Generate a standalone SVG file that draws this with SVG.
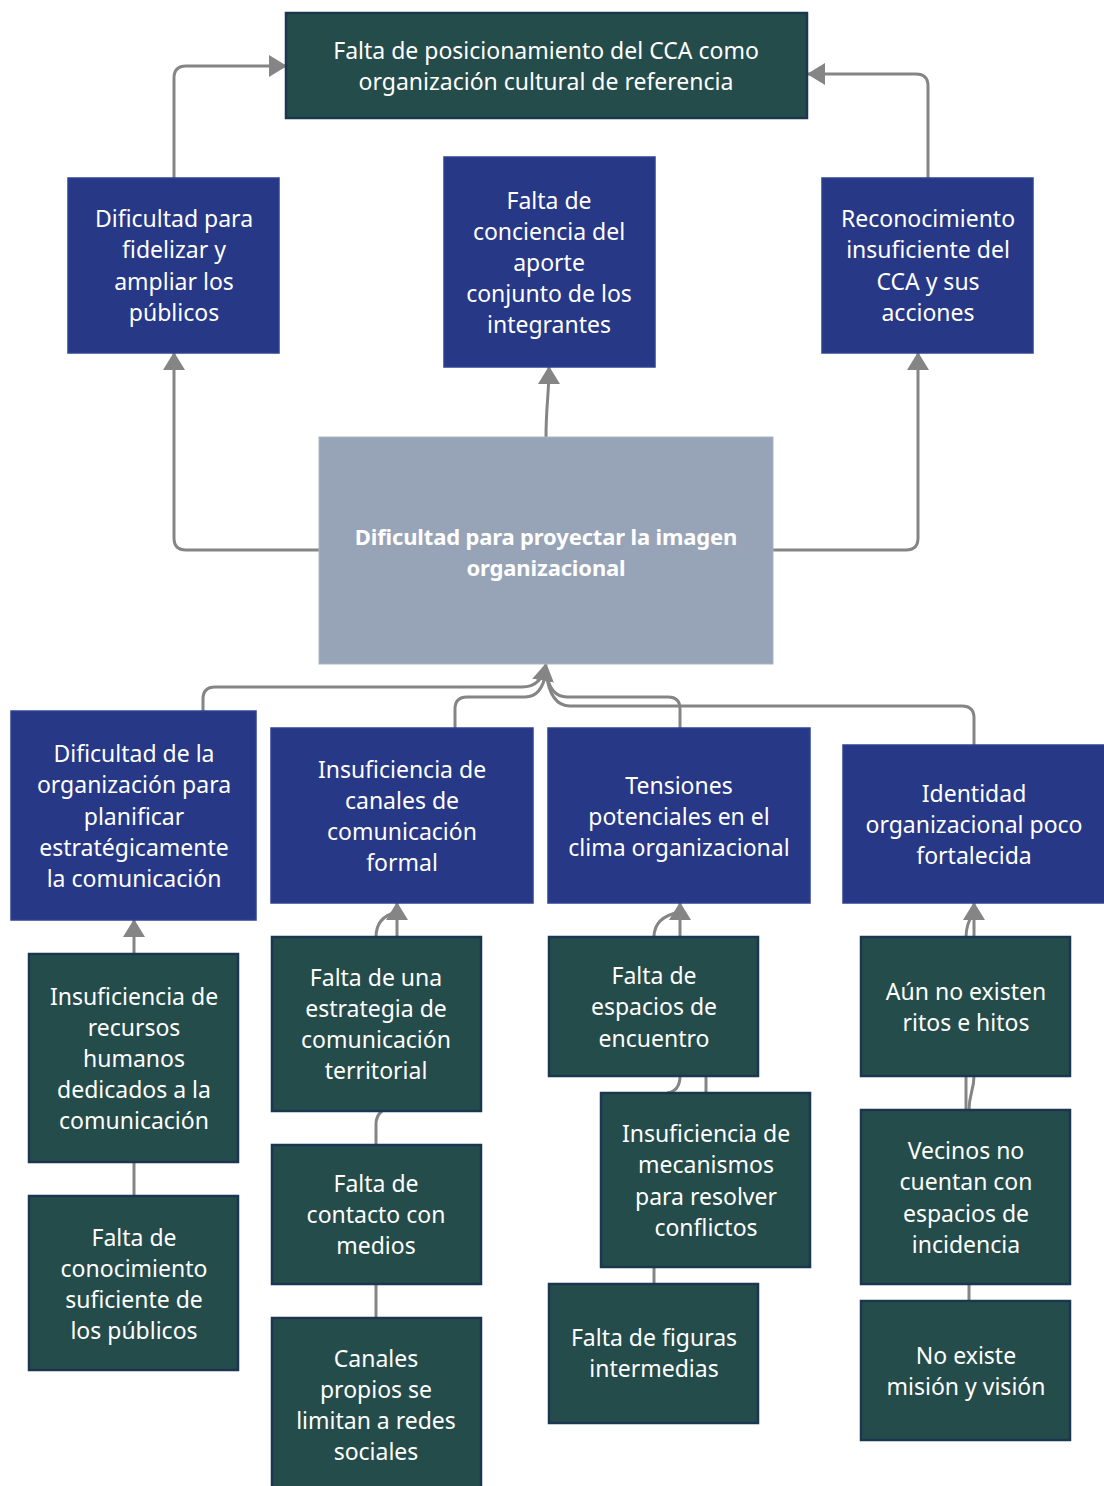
<svg xmlns="http://www.w3.org/2000/svg" width="1104" height="1486" viewBox="0 0 1104 1486">
<style>
.t{font-family:"Noto Sans","Open Sans","DejaVu Sans",sans-serif;font-size:23px;fill:#ffffff;text-anchor:middle}
.tb{font-family:"Noto Sans","Open Sans","DejaVu Sans",sans-serif;font-size:22px;font-weight:bold;fill:#ffffff;text-anchor:middle;letter-spacing:-0.15px}
.g{fill:#244c4a;stroke:#1b3650;stroke-width:2.5}
.b{fill:#273886;stroke:#2f4292;stroke-width:1.5}
.c{fill:#97a4b8;stroke:#a9b4c5;stroke-width:1}
.e{fill:none;stroke:#858585;stroke-width:3}
</style>
<defs>
<marker id="ar" markerUnits="userSpaceOnUse" markerWidth="22" markerHeight="22" refX="17" refY="11" orient="auto">
<path d="M0,0 L18,11 L0,22 Z" fill="#858585"/>
</marker>
</defs>
<g id="connectors">
<path class="e" d="M174,178 V78 Q174,66 186,66 H286" marker-end="url(#ar)"/>
<path class="e" d="M928,178 V86 Q928,74 916,74 H808" marker-end="url(#ar)"/>
<path class="e" d="M319,550 H186 Q174,550 174,538 V353" marker-end="url(#ar)"/>
<path class="e" d="M773,550 H906 Q918,550 918,538 V353" marker-end="url(#ar)"/>
<path class="e" d="M546,437 C546,405 549,395 549,367" marker-end="url(#ar)"/>
<path class="e" d="M203,711 V699 Q203,687 215,687 H522 Q542,687 546,664" marker-end="url(#ar)"/>
<path class="e" d="M455,728 V709 Q455,697 467,697 H525 Q542,697 546,672"/>
<path class="e" d="M680,728 V709 Q680,697 668,697 H567 Q550,697 546,672"/>
<path class="e" d="M974,745 V718 Q974,706 962,706 H570 Q550,706 546,672"/>
<path class="e" d="M134,954 V920" marker-end="url(#ar)"/>
<path class="e" d="M134,1196 V1162"/>
<path class="e" d="M397,937 V903" marker-end="url(#ar)"/>
<path class="e" d="M376,937 C376,922 384,915 397,912"/>
<path class="e" d="M376,1145 V1124 Q376,1116 382,1111"/>
<path class="e" d="M376,1318 V1284"/>
<path class="e" d="M680,937 V903" marker-end="url(#ar)"/>
<path class="e" d="M654,937 C654,922 664,915 680,912"/>
<path class="e" d="M706,1093 V1076"/>
<path class="e" d="M680,1076 C680,1088 674,1092 667,1093"/>
<path class="e" d="M654,1284 V1267"/>
<path class="e" d="M974,937 V903" marker-end="url(#ar)"/>
<path class="e" d="M966,937 C966,925 970,918 974,912"/>
<path class="e" d="M966,1110 V1076"/>
<path class="e" d="M969,1110 C969,1094 974,1090 974,1076"/>
<path class="e" d="M969,1301 V1284"/>
</g>
<g id="n_top"><rect class="g" x="286" y="13" width="521" height="105"/>
<text class="t" x="546" y="59">Falta de posicionamiento del CCA como</text>
<text class="t" x="546" y="90">organización cultural de referencia</text></g>
<g id="n_fidelizar"><rect class="b" x="68" y="178" width="211" height="175"/>
<text class="t" x="174" y="227">Dificultad para</text>
<text class="t" x="174" y="258">fidelizar y</text>
<text class="t" x="174" y="290">ampliar los</text>
<text class="t" x="174" y="321">públicos</text></g>
<g id="n_conciencia"><rect class="b" x="444" y="157" width="211" height="210"/>
<text class="t" x="549" y="209">Falta de</text>
<text class="t" x="549" y="240">conciencia del</text>
<text class="t" x="549" y="271">aporte</text>
<text class="t" x="549" y="302">conjunto de los</text>
<text class="t" x="549" y="333">integrantes</text></g>
<g id="n_reconocimiento"><rect class="b" x="822" y="178" width="211" height="175"/>
<text class="t" x="928" y="227">Reconocimiento</text>
<text class="t" x="928" y="258">insuficiente del</text>
<text class="t" x="928" y="290">CCA y sus</text>
<text class="t" x="928" y="321">acciones</text></g>
<g id="n_center"><rect class="c" x="319" y="437" width="454" height="227"/>
<text class="tb" x="546" y="545">Dificultad para proyectar la imagen</text>
<text class="tb" x="546" y="576">organizacional</text></g>
<g id="n_planificar"><rect class="b" x="11" y="711" width="245" height="209"/>
<text class="t" x="134" y="762">Dificultad de la</text>
<text class="t" x="134" y="793">organización para</text>
<text class="t" x="134" y="825">planificar</text>
<text class="t" x="134" y="856">estratégicamente</text>
<text class="t" x="134" y="887">la comunicación</text></g>
<g id="n_canales"><rect class="b" x="271" y="728" width="262" height="175"/>
<text class="t" x="402" y="778">Insuficiencia de</text>
<text class="t" x="402" y="809">canales de</text>
<text class="t" x="402" y="840">comunicación</text>
<text class="t" x="402" y="871">formal</text></g>
<g id="n_tensiones"><rect class="b" x="548" y="728" width="262" height="175"/>
<text class="t" x="679" y="794">Tensiones</text>
<text class="t" x="679" y="825">potenciales en el</text>
<text class="t" x="679" y="856">clima organizacional</text></g>
<g id="n_identidad"><rect class="b" x="843" y="745" width="265" height="158"/>
<text class="t" x="974" y="802">Identidad</text>
<text class="t" x="974" y="833">organizacional poco</text>
<text class="t" x="974" y="864">fortalecida</text></g>
<g id="n_recursos"><rect class="g" x="29" y="954" width="209" height="208"/>
<text class="t" x="134" y="1005">Insuficiencia de</text>
<text class="t" x="134" y="1036">recursos</text>
<text class="t" x="134" y="1067">humanos</text>
<text class="t" x="134" y="1098">dedicados a la</text>
<text class="t" x="134" y="1129">comunicación</text></g>
<g id="n_conocimiento"><rect class="g" x="29" y="1196" width="209" height="174"/>
<text class="t" x="134" y="1246">Falta de</text>
<text class="t" x="134" y="1277">conocimiento</text>
<text class="t" x="134" y="1308">suficiente de</text>
<text class="t" x="134" y="1339">los públicos</text></g>
<g id="n_estrategia"><rect class="g" x="272" y="937" width="209" height="174"/>
<text class="t" x="376" y="986">Falta de una</text>
<text class="t" x="376" y="1017">estrategia de</text>
<text class="t" x="376" y="1048">comunicación</text>
<text class="t" x="376" y="1079">territorial</text></g>
<g id="n_medios"><rect class="g" x="272" y="1145" width="209" height="139"/>
<text class="t" x="376" y="1192">Falta de</text>
<text class="t" x="376" y="1223">contacto con</text>
<text class="t" x="376" y="1254">medios</text></g>
<g id="n_redes"><rect class="g" x="272" y="1318" width="209" height="170"/>
<text class="t" x="376" y="1367">Canales</text>
<text class="t" x="376" y="1398">propios se</text>
<text class="t" x="376" y="1429">limitan a redes</text>
<text class="t" x="376" y="1460">sociales</text></g>
<g id="n_espacios"><rect class="g" x="549" y="937" width="209" height="139"/>
<text class="t" x="654" y="984">Falta de</text>
<text class="t" x="654" y="1015">espacios de</text>
<text class="t" x="654" y="1047">encuentro</text></g>
<g id="n_mecanismos"><rect class="g" x="601" y="1093" width="209" height="174"/>
<text class="t" x="706" y="1142">Insuficiencia de</text>
<text class="t" x="706" y="1173">mecanismos</text>
<text class="t" x="706" y="1205">para resolver</text>
<text class="t" x="706" y="1236">conflictos</text></g>
<g id="n_figuras"><rect class="g" x="549" y="1284" width="209" height="139"/>
<text class="t" x="654" y="1346">Falta de figuras</text>
<text class="t" x="654" y="1377">intermedias</text></g>
<g id="n_ritos"><rect class="g" x="861" y="937" width="209" height="139"/>
<text class="t" x="966" y="1000">Aún no existen</text>
<text class="t" x="966" y="1031">ritos e hitos</text></g>
<g id="n_vecinos"><rect class="g" x="861" y="1110" width="209" height="174"/>
<text class="t" x="966" y="1159">Vecinos no</text>
<text class="t" x="966" y="1190">cuentan con</text>
<text class="t" x="966" y="1222">espacios de</text>
<text class="t" x="966" y="1253">incidencia</text></g>
<g id="n_mision"><rect class="g" x="861" y="1301" width="209" height="139"/>
<text class="t" x="966" y="1364">No existe</text>
<text class="t" x="966" y="1395">misión y visión</text></g>
</svg>
